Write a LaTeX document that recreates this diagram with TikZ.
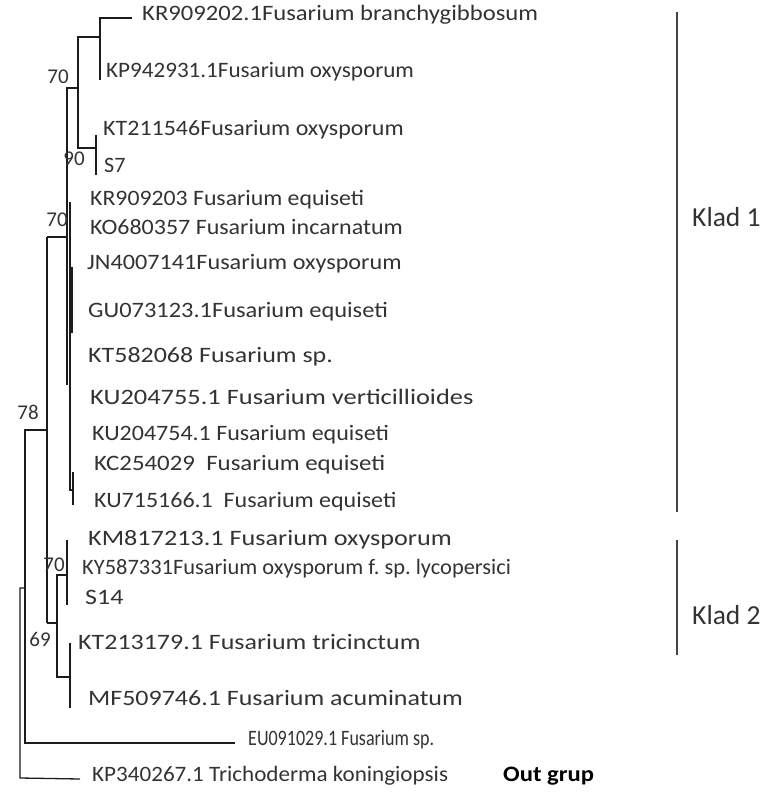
\documentclass[tikz,border=0pt]{standalone}
\usepackage{fontspec}
\setmainfont{Carlito}
\usepackage{xcolor}
\usepackage{graphicx}
\usetikzlibrary{calc}
\frenchspacing
\definecolor{ink}{HTML}{333333}
\definecolor{branchc}{HTML}{1C1C1C}
\definecolor{barc}{HTML}{454545}
\tikzset{
  leaf/.style={anchor=west, inner sep=0pt, text=ink,
    font=\fontsize{22}{22}\selectfont, text height=0.68em, text depth=0.2em},
  boot/.style={inner sep=0pt, text=ink, font=\fontsize{21}{21}\selectfont},
  branch/.style={draw=branchc, line width=1.3pt},
  cladebar/.style={draw=barc, line width=2pt},
  cladelabel/.style={anchor=west, inner sep=0pt, text=ink,
    font=\fontsize{27.5}{27.5}\selectfont},
  outlabel/.style={anchor=west, inner sep=0pt, text=black,
    font=\bfseries\fontsize{22}{22}\selectfont}
}
\newcommand{\wide}[2]{\scalebox{#1}[1]{#2}}

\begin{document}
\begin{tikzpicture}[x=1pt,y=-1pt]
  \useasboundingbox (0,0) rectangle (762,792);

  % leaves, klad 1
  \node[leaf] (kr202) at (142,18)  {\wide{1.12}{KR909202.1Fusarium branchygibbosum}};
  \node[leaf] (kp931) at (106,75)  {\wide{1.05}{KP942931.1Fusarium oxysporum}};
  \node[leaf] (kt546) at (103,133) {\wide{1.09}{KT211546Fusarium oxysporum}};
  \node[leaf] (s7)    at (104,170) {S7};
  \node[leaf] (kr203) at (90,203)  {\wide{1.08}{KR909203 Fusarium equiseti}};
  \node[leaf] (ko357) at (90,232)  {\wide{1.09}{KO680357 Fusarium incarnatum}};
  \node[leaf] (jn141) at (87,267)  {\wide{1.10}{JN4007141Fusarium oxysporum}};
  \node[leaf] (gu123) at (88,315)  {\wide{1.11}{GU073123.1Fusarium equiseti}};
  \node[leaf] (kt068) at (88,360)  {\wide{1.18}{KT582068 Fusarium sp.}};
  \node[leaf] (ku755) at (90,402)  {\wide{1.20}{KU204755.1 Fusarium verticillioides}};
  \node[leaf] (ku754) at (92,438)  {\wide{1.09}{KU204754.1 Fusarium equiseti}};
  \node[leaf] (kc029) at (94,468)  {\wide{1.13}{KC254029\ \ Fusarium equiseti}};
  \node[leaf] (ku166) at (94,505)  {\wide{1.09}{KU715166.1\ \ Fusarium equiseti}};

  % leaves, klad 2
  \node[leaf] (km213) at (88,543)  {\wide{1.19}{KM817213.1 Fusarium oxysporum}};
  \node[leaf] (ky331) at (82,572)  {\wide{1.02}{KY587331Fusarium oxysporum f. sp. lycopersici}};
  \node[leaf] (s14)   at (85,602)  {\wide{1.18}{S14}};
  \node[leaf] (kt179) at (78,647)  {\wide{1.18}{KT213179.1 Fusarium tricinctum}};
  \node[leaf] (mf746) at (88,703)  {\wide{1.18}{MF509746.1 Fusarium acuminatum}};

  % other leaves
  \node[leaf] (eu029) at (248,743) {\wide{0.82}{EU091029.1 Fusarium sp.}};
  \node[leaf] (kp267) at (92,779)  {\wide{1.05}{KP340267.1 Trichoderma koningiopsis}};
  \node[outlabel] (outg) at (503,776) {\wide{1.12}{Out grup}};

  % internal nodes
  \coordinate (n1)   at (100,37);
  \coordinate (n1b)  at (100,80);
  \coordinate (n2)   at (96,148);
  \coordinate (n2a)  at (96,135);
  \coordinate (n2b)  at (96,175);
  \coordinate (n3)   at (78,88);
  \coordinate (c1lo) at (67,385);
  \coordinate (pa)   at (70,202);
  \coordinate (pb)   at (70,490);
  \coordinate (ta)   at (71.5,267);
  \coordinate (tb)   at (71.5,333);
  \coordinate (sa)   at (73,472);
  \coordinate (sb)   at (73,505);
  \coordinate (n5)   at (47,430);
  \coordinate (n5a)  at (47,237);
  \coordinate (n5b)  at (47,623);
  \coordinate (k1)   at (67,575);
  \coordinate (k1a)  at (67,540);
  \coordinate (k1b)  at (67,605);
  \coordinate (k2b)  at (57,677);
  \coordinate (k3)   at (70,677);
  \coordinate (k3a)  at (70,643);
  \coordinate (k3b)  at (70,708);
  \coordinate (n6)   at (25,588);
  \coordinate (n6b)  at (25,743);
  \coordinate (rootb) at (20,778);

  % branches, klad 1
  \draw[branch] ([xshift=-10pt]kr202.west) -| (n1b);
  \draw[branch] (n1) -| (n3) |- (n2);
  \draw[branch] (n2a) -- (n2b);
  \draw[branch] (n3) -| (c1lo);
  \draw[branch] (pa) -- (pb) -- (pb -| sa);
  \draw[branch, line width=2.6pt] (ta) -- (tb);
  \draw[branch] (sa) -- (sb);
  \draw[branch] (n5a) -- (n5a -| c1lo);
  \draw[branch] (n5a) -- (n5b);

  % branches, klad 2
  \draw[branch] (k1a) -- (k1b);
  \draw[branch] (k1) -| (k2b) -- (k3);
  \draw[branch] (k3a) -- (k3b);
  \draw[branch] (n5b) -- (n5b -| k2b);

  % outer branches
  \draw[branch] (n5) -| (n6b) -- ([xshift=-13pt]eu029.west);
  \draw[branch] (n6) -| (rootb) -- ([xshift=-12pt]kp267.west);

  % bootstrap values
  \node[boot] (bs1) at (58,77)  {70};
  \node[boot] (bs2) at (74,159) {90};
  \node[boot] (bs3) at (57,220) {70};
  \node[boot] (bs4) at (28,412) {78};
  \node[boot] (bs5) at (54,565) {70};
  \node[boot] (bs6) at (40,639) {69};

  % clades
  \coordinate (bar1a) at (677,12);
  \coordinate (bar1b) at (677,512);
  \coordinate (bar2a) at (677,540);
  \coordinate (bar2b) at (677,655);
  \draw[cladebar] (bar1a) -- (bar1b);
  \draw[cladebar] (bar2a) -- (bar2b);
  \node[cladelabel] (klad1) at (692,217) {Klad 1};
  \node[cladelabel] (klad2) at (692,615) {Klad 2};
\end{tikzpicture}
\end{document}
